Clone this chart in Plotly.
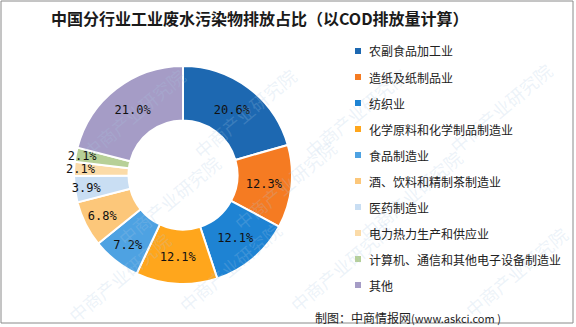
import plotly.graph_objects as go

# Industry categories and their share of COD emissions (%)
categories = [
    "农副食品加工业",
    "造纸及纸制品业",
    "纺织业",
    "化学原料和化学制品制造业",
    "食品制造业",
    "酒、饮料和精制茶制造业",
    "医药制造业",
    "电力热力生产和供应业",
    "计算机、通信和其他电子设备制造业",
    "其他",
]
shares = [20.6, 12.3, 12.1, 12.1, 7.2, 6.8, 3.9, 2.1, 2.1, 21.0]
colors = [
    "#1D68B1", "#F57B22", "#1E83D3", "#FFA61C", "#4EA2E2",
    "#FCC77A", "#C9DEF3", "#FBDBA8", "#B7D097", "#A59CC6",
]

W, H = 576, 327
cx, cy, r = 183, 175, 109  # donut centre / radius in pixels

fig = go.Figure()

fig.add_trace(go.Pie(
    labels=categories,
    values=shares,
    sort=False,
    direction="clockwise",
    rotation=0,
    hole=0.5,
    marker=dict(colors=colors, line=dict(color="white", width=2)),
    texttemplate="%{value:.1f}%",
    textposition="inside",
    insidetextorientation="horizontal",
    textfont=dict(family="DejaVu Sans Mono", size=12, color="#111"),
    showlegend=False,
    hoverinfo="label+value",
    domain=dict(x=[(cx - r) / W, (cx + r) / W],
                y=[(H - cy - r) / H, (H - cy + r) / H]),
))

annotations = []
shapes = []

# Faint diagonal watermarks
wm_pos = [(75, 60), (245, 60), (415, 60), (560, 55),
          (110, 200), (285, 185), (470, 195),
          (60, 330), (230, 320), (400, 320), (575, 325)]
for (x, y) in wm_pos:
    annotations.append(dict(
        x=x / W, y=1 - y / H, xref="paper", yref="paper",
        text="中商产业研究院", showarrow=False, textangle=-40,
        font=dict(family="Noto Sans CJK SC", size=18, color="rgba(170,200,228,0.22)"),
    ))

# Title
annotations.append(dict(
    x=260 / W, y=1 - 18 / H, xref="paper", yref="paper",
    text="<b>中国分行业工业废水污染物排放占比（以COD排放量计算）</b>",
    showarrow=False, xanchor="center", yanchor="middle",
    font=dict(family="Noto Sans CJK SC", size=16, color="#1a1a1a"),
))

# Legend: square swatch + label for each category
legend_top, legend_step = 51, 26
for i, (name, col) in enumerate(zip(categories, colors)):
    y = legend_top + i * legend_step
    shapes.append(dict(
        type="rect", xref="paper", yref="paper",
        x0=355 / W, x1=361 / W, y0=1 - (y + 3) / H, y1=1 - (y - 3) / H,
        fillcolor=col, line=dict(width=0),
    ))
    annotations.append(dict(
        x=367 / W, y=1 - y / H, xref="paper", yref="paper",
        text=name, showarrow=False, xanchor="left", yanchor="middle",
        font=dict(family="Noto Sans CJK SC", size=12, color="#222"),
    ))

# Source note
annotations.append(dict(
    x=313 / W, y=1 - 317 / H, xref="paper", yref="paper",
    text="制图：中商情报网<span style='font-size:11px'>(www.askci.com )</span>",
    showarrow=False, xanchor="left", yanchor="middle",
    font=dict(family="Noto Sans CJK SC", size=12, color="#222"),
))

# Outer frame
shapes.append(dict(
    type="rect", xref="paper", yref="paper",
    x0=1 / W, x1=573 / W, y0=1 - 323 / H, y1=1 - 1 / H,
    line=dict(color="#8a8a8a", width=1), fillcolor="rgba(0,0,0,0)",
))

fig.update_layout(
    width=W, height=H,
    margin=dict(l=0, r=0, t=0, b=0),
    paper_bgcolor="white", plot_bgcolor="white",
    uniformtext=dict(minsize=12, mode="show"),
    annotations=annotations,
    shapes=shapes,
)

fig.write_html("out.html")
